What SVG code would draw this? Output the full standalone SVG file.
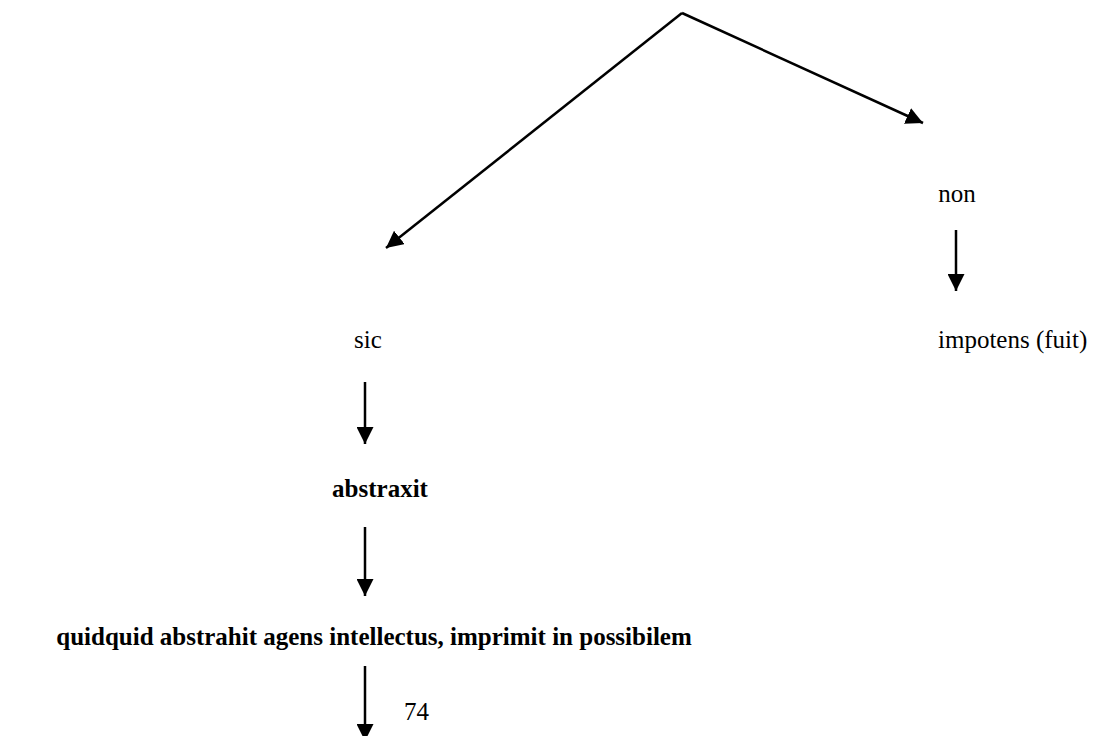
<svg xmlns="http://www.w3.org/2000/svg" width="1101" height="736" viewBox="0 0 1101 736">
<style>
text{font-family:"Liberation Serif","Times New Roman",serif;fill:#000}
.t{font-size:25px}
.b{font-weight:bold}
.c{stroke:#000;stroke-width:2.5;fill:none;marker-end:url(#ah)}
</style>
<defs>
<marker id="ah" markerUnits="userSpaceOnUse" markerWidth="17" markerHeight="17" refX="16" refY="8" orient="auto" viewBox="0 0 16 16">
<path d="M0,0 L16,8 L0,16 z" fill="#000"/>
</marker>
</defs>
<rect width="1101" height="736" fill="#fff"/>
<g id="connectors">
<path class="c" d="M682,13 L386,248"/>
<path class="c" d="M682,13 L923,123"/>
<path class="c" d="M956,230 L956,291"/>
<path class="c" d="M365,382 L365,444"/>
<path class="c" d="M365,527 L365,596"/>
<path class="c" d="M365,666 L365,741"/>
</g>
<g id="node-non"><text class="t" x="957" y="202" text-anchor="middle" font-family="Liberation Serif, serif">non</text></g>
<g id="node-sic"><text class="t" x="368" y="348" text-anchor="middle" font-family="Liberation Serif, serif">sic</text></g>
<g id="node-impotens"><text class="t" x="938" y="348" font-family="Liberation Serif, serif">impotens (fuit)</text></g>
<g id="node-abstraxit"><text class="t b" x="380" y="497" text-anchor="middle" font-family="Liberation Serif, serif">abstraxit</text></g>
<g id="node-quidquid"><text class="t b" x="374" y="645" text-anchor="middle" font-family="Liberation Serif, serif">quidquid abstrahit agens intellectus, imprimit in possibilem</text></g>
<g id="node-74"><text class="t" x="404" y="720" font-family="Liberation Serif, serif">74</text></g>
</svg>
